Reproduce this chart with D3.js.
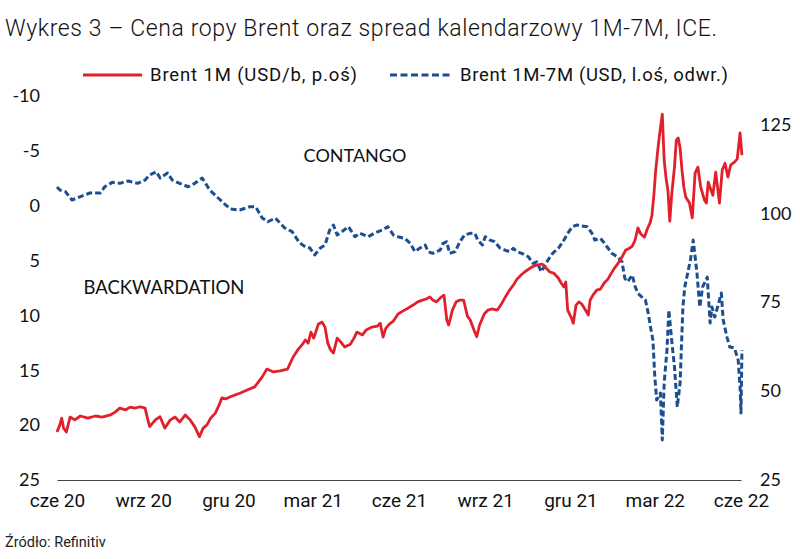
<!DOCTYPE html>
<html>
<head>
<meta charset="utf-8">
<script src="https://cdn.jsdelivr.net/npm/d3@7/dist/d3.min.js"></script>
<style>
html,body{margin:0;padding:0;background:#fff;}
svg{display:block;}
</style>
</head>
<body>
<svg id="chart" width="800" height="559"></svg>
<script>
// ---------- DATA ----------
const titleText = "Wykres 3 – Cena ropy Brent oraz spread kalendarzowy 1M-7M, ICE.";
const sourceText = "Źródło: Refinitiv";
const seriesNames = ["Brent 1M (USD/b, p.oś)", "Brent 1M-7M (USD, l.oś, odwr.)"];
const annotations = ["CONTANGO", "BACKWARDATION"];

const xTickDates = ["2020-06-01","2020-09-01","2020-12-01","2021-03-01","2021-06-01","2021-09-01","2021-12-01","2022-03-01","2022-06-01"];
const xTickLabels = ["cze 20","wrz 20","gru 20","mar 21","cze 21","wrz 21","gru 21","mar 22","cze 22"];
const leftTicks = [-10,-5,0,5,10,15,20,25];
const rightTicks = [25,50,75,100,125];

// Brent 1M (USD/b) - right axis
const brentDates = [
"2020-06-01","2020-06-04","2020-06-06","2020-06-08","2020-06-11","2020-06-15","2020-06-20","2020-06-26","2020-07-04","2020-07-12",
"2020-07-19","2020-07-28","2020-08-02","2020-08-07","2020-08-13","2020-08-18","2020-08-23","2020-08-29","2020-09-03","2020-09-06",
"2020-09-08","2020-09-14","2020-09-19","2020-09-24","2020-09-30","2020-10-05","2020-10-10","2020-10-16","2020-10-21","2020-10-26",
"2020-10-31","2020-11-04","2020-11-08","2020-11-12","2020-11-17","2020-11-21","2020-11-24","2020-11-28","2020-12-03","2020-12-08",
"2020-12-13","2020-12-21","2020-12-29","2021-01-06","2021-01-11","2021-01-18","2021-01-25","2021-02-02","2021-02-08","2021-02-13",
"2021-02-18","2021-02-21","2021-02-24","2021-02-27","2021-03-02","2021-03-07","2021-03-11","2021-03-14","2021-03-17","2021-03-20",
"2021-03-23","2021-03-27","2021-03-31","2021-04-04","2021-04-10","2021-04-14","2021-04-17","2021-04-23","2021-04-27","2021-05-03",
"2021-05-09","2021-05-12","2021-05-15","2021-05-18","2021-05-22","2021-05-26","2021-05-31","2021-06-05","2021-06-11","2021-06-16",
"2021-06-21","2021-06-26","2021-06-30","2021-07-04","2021-07-07","2021-07-11","2021-07-15","2021-07-19","2021-07-22","2021-07-24",
"2021-07-28","2021-08-01","2021-08-05","2021-08-09","2021-08-13","2021-08-16","2021-08-20","2021-08-23","2021-08-26","2021-08-31",
"2021-09-04","2021-09-08","2021-09-14","2021-09-19","2021-09-23","2021-09-27","2021-10-01","2021-10-05","2021-10-09","2021-10-13",
"2021-10-19","2021-10-23","2021-10-27","2021-11-01","2021-11-05","2021-11-09","2021-11-13","2021-11-18","2021-11-21","2021-11-24",
"2021-11-26","2021-11-28","2021-12-02","2021-12-04","2021-12-07","2021-12-10","2021-12-13","2021-12-17","2021-12-20","2021-12-22",
"2021-12-25","2021-12-29","2022-01-02","2022-01-06","2022-01-10","2022-01-13","2022-01-17","2022-01-21","2022-01-25","2022-01-29",
"2022-02-02","2022-02-05","2022-02-08","2022-02-11","2022-02-14","2022-02-18","2022-02-21","2022-02-24","2022-02-26","2022-02-28",
"2022-03-02","2022-03-05","2022-03-07","2022-03-09","2022-03-11","2022-03-13","2022-03-15","2022-03-17","2022-03-19","2022-03-22",
"2022-03-24","2022-03-26","2022-03-28","2022-03-30","2022-04-01","2022-04-03","2022-04-07","2022-04-10","2022-04-13","2022-04-16",
"2022-04-19","2022-04-23","2022-04-25","2022-04-27","2022-04-30","2022-05-02","2022-05-05","2022-05-09","2022-05-12","2022-05-15",
"2022-05-18","2022-05-21","2022-05-25","2022-05-28","2022-05-31","2022-06-02"];
const brentValues = [
38.5,40.5,42.4,39.6,38.5,42.7,41.9,43.0,42.4,43.0,
42.7,43.3,44.1,45.2,44.7,45.5,45.2,45.6,45.2,41.9,
40.0,41.9,42.8,39.6,41.9,42.7,41.3,43.3,41.9,40.0,
37.2,39.6,40.5,42.4,43.8,46.1,48.1,47.8,48.4,48.9,
49.4,50.3,51.2,54.0,56.2,55.4,55.7,56.2,59.6,61.6,
63.2,64.4,63.5,66.6,64.9,68.9,69.4,68.0,63.5,61.6,
60.7,64.9,63.8,62.4,63.2,64.9,66.6,65.8,67.2,68.0,
68.3,69.1,65.2,67.7,68.9,69.7,71.7,72.5,73.4,74.2,
75.1,75.6,75.9,76.5,75.6,75.1,76.2,77.0,70.0,68.6,
72.8,75.1,75.6,75.6,71.1,70.0,67.2,65.3,68.6,71.7,
72.8,73.1,72.8,74.8,76.7,78.4,79.8,81.5,82.6,83.5,
84.6,85.2,85.5,85.7,84.6,83.5,83.2,81.8,80.4,79.3,
80.7,72.8,70.6,69.1,74.2,75.1,74.5,72.8,71.4,75.6,
77.0,78.4,78.7,80.4,81.5,82.9,84.6,86.0,87.7,89.7,
90.2,90.8,92.5,95.9,94.2,93.3,95.6,97.3,99.5,105.1,
112.2,119.8,124.0,127.9,115.0,109.9,106.5,97.8,105.1,113.0,
120.6,121.2,118.4,112.2,107.4,104.6,102.9,98.7,111.3,113.0,
107.4,103.7,102.9,108.8,106.5,105.1,111.6,102.9,112.2,114.1,
110.2,113.6,114.4,115.3,122.6,116.4];

// Brent 1M-7M spread (USD) - left axis, inverted
const spreadDates = [
"2020-06-01","2020-06-04","2020-06-10","2020-06-17","2020-06-26","2020-07-06","2020-07-17","2020-07-22","2020-07-30","2020-08-07",
"2020-08-16","2020-08-26","2020-09-03","2020-09-08","2020-09-15","2020-09-19","2020-09-27","2020-10-02","2020-10-10","2020-10-19",
"2020-10-26","2020-11-03","2020-11-11","2020-11-20","2020-11-27","2020-12-03","2020-12-13","2020-12-24","2020-12-30","2021-01-06",
"2021-01-12","2021-01-20","2021-01-30","2021-02-07","2021-02-15","2021-02-21","2021-02-26","2021-03-03","2021-03-09","2021-03-14",
"2021-03-19","2021-03-23","2021-03-27","2021-04-01","2021-04-08","2021-04-15","2021-04-20","2021-04-29","2021-05-06","2021-05-14",
"2021-05-20","2021-05-26","2021-05-31","2021-06-07","2021-06-13","2021-06-18","2021-06-23","2021-06-29","2021-07-02","2021-07-07",
"2021-07-15","2021-07-18","2021-07-22","2021-07-25","2021-07-31","2021-08-05","2021-08-10","2021-08-16","2021-08-21","2021-08-24",
"2021-08-29","2021-09-01","2021-09-06","2021-09-11","2021-09-17","2021-09-22","2021-09-27","2021-10-01","2021-10-05","2021-10-10",
"2021-10-17","2021-10-22","2021-10-26","2021-10-31","2021-11-04","2021-11-07","2021-11-12","2021-11-18","2021-11-23","2021-11-28",
"2021-12-03","2021-12-08","2021-12-13","2021-12-19","2021-12-24","2021-12-27","2022-01-02","2022-01-05","2022-01-09","2022-01-14",
"2022-01-20","2022-01-25","2022-01-28","2022-01-31","2022-02-05","2022-02-08","2022-02-11","2022-02-15","2022-02-19","2022-02-22",
"2022-02-25","2022-02-27","2022-03-01","2022-03-03","2022-03-07","2022-03-09","2022-03-11","2022-03-14","2022-03-16","2022-03-19",
"2022-03-22","2022-03-25","2022-03-28","2022-03-31","2022-04-02","2022-04-08","2022-04-11","2022-04-15","2022-04-18","2022-04-21",
"2022-04-26","2022-04-29","2022-05-01","2022-05-04","2022-05-07","2022-05-11","2022-05-13","2022-05-17","2022-05-20","2022-05-25",
"2022-05-29","2022-05-31","2022-06-01","2022-06-02"];
const spreadValues = [
-1.70,-1.43,-1.28,-0.52,-0.82,-1.16,-1.16,-1.73,-2.13,-2.04,
-2.25,-2.04,-2.34,-2.80,-3.10,-2.52,-2.98,-2.34,-2.04,-1.73,
-2.04,-2.52,-1.43,-0.70,-0.15,0.30,0.39,0.09,0.09,1.12,
1.46,1.12,2.03,2.37,3.40,3.74,3.86,4.49,3.86,3.58,
2.22,1.76,2.67,2.37,1.91,2.83,2.49,2.83,2.49,2.22,
1.91,2.67,2.83,2.97,3.43,4.19,3.88,3.58,4.19,4.34,
4.04,3.43,3.28,4.34,4.19,3.28,2.67,2.52,2.52,3.13,
3.58,2.83,3.13,3.28,3.88,4.04,4.19,3.88,4.19,4.34,
4.65,5.25,5.11,6.02,5.41,4.95,4.34,3.88,3.28,2.52,
1.91,1.76,1.85,1.91,2.52,3.13,2.97,3.28,3.74,4.34,
4.65,5.11,6.62,6.93,6.32,7.38,7.99,8.30,8.60,9.81,
11.33,12.24,15.59,17.71,17.07,21.36,16.16,13.15,9.51,12.24,
14.70,18.35,16.16,9.23,7.41,4.95,3.13,6.14,9.23,7.41,
6.50,10.69,9.23,10.15,9.23,7.96,10.42,11.97,12.88,12.97,
14.07,16.53,18.90,13.15];

// ---------- CHART ----------
const parse = d3.utcParse("%Y-%m-%d");
const brent = brentDates.map((d,i)=>({date:parse(d), value:brentValues[i]}));
const spread = spreadDates.map((d,i)=>({date:parse(d), value:spreadValues[i]}));

const svg = d3.select("#chart");
const RED = "#e1202b", BLUE = "#1d4f8f";
const ING = "Roboto, 'Open Sans', sans-serif";
const CAL = "Lato, 'Open Sans', sans-serif";

const x = d3.scaleUtc().domain([parse("2020-06-01"), parse("2022-06-01")]).range([57, 741]);
const yL = d3.scaleLinear().domain([-10, 25]).range([96, 480]);
const yR = d3.scaleLinear().domain([25, 133]).range([480, 96]);

// title
svg.append("text").attr("x",5).attr("y",36)
  .attr("font-family",ING).attr("font-weight",300).attr("font-size",23).attr("fill","#111")
  .attr("textLength",712).attr("lengthAdjust","spacing")
  .text(titleText);

// legend
const lg = svg.append("g");
lg.append("line").attr("x1",83).attr("x2",142).attr("y1",75).attr("y2",75)
  .attr("stroke",RED).attr("stroke-width",3);
lg.append("text").attr("x",150).attr("y",81).attr("font-family",ING).attr("font-size",18.5)
  .attr("textLength",207).attr("lengthAdjust","spacing").attr("fill","#111").text(seriesNames[0]);
lg.append("line").attr("x1",390).attr("x2",452).attr("y1",75).attr("y2",75)
  .attr("stroke",BLUE).attr("stroke-width",3).attr("stroke-dasharray","7,3.5");
lg.append("text").attr("x",460).attr("y",81).attr("font-family",ING).attr("font-size",18.5)
  .attr("textLength",268).attr("lengthAdjust","spacing").attr("fill","#111").text(seriesNames[1]);

// axes
const xAxis = d3.axisBottom(x)
  .tickValues(xTickDates.map(parse))
  .tickFormat((d,i)=>xTickLabels[i])
  .tickSize(0).tickSizeOuter(0).tickPadding(14);
const gx = svg.append("g").attr("transform","translate(0,480)").call(xAxis);
gx.select(".domain").attr("stroke","#444").attr("stroke-width",1.2);
gx.selectAll("text").attr("font-family",ING).attr("font-size",19).attr("fill","#111");

const gl = svg.append("g").attr("transform","translate(43,0)")
  .call(d3.axisLeft(yL).tickValues(leftTicks).tickFormat(d=>String(d)).tickSize(0).tickPadding(3));
gl.select(".domain").remove();
gl.selectAll("text").attr("font-family",CAL).attr("font-size",18).attr("fill","#111");

const gr = svg.append("g").attr("transform","translate(757,0)")
  .call(d3.axisRight(yR).tickValues(rightTicks).tickFormat(d=>String(d)).tickSize(0).tickPadding(3));
gr.select(".domain").remove();
gr.selectAll("text").attr("font-family",CAL).attr("font-size",18).attr("fill","#111");

// annotations
svg.append("text").attr("x",355).attr("y",162).attr("text-anchor","middle")
  .attr("font-family",CAL).attr("font-size",18).attr("fill","#111").text(annotations[0]);
svg.append("text").attr("x",164).attr("y",294).attr("text-anchor","middle")
  .attr("font-family",CAL).attr("font-size",18.5).attr("fill","#111").text(annotations[1]);

// lines
const lineR = d3.line().x(d=>x(d.date)).y(d=>yR(d.value));
const lineL = d3.line().x(d=>x(d.date)).y(d=>yL(d.value));

svg.append("path").datum(spread).attr("d",lineL)
  .attr("fill","none").attr("stroke",BLUE).attr("stroke-width",3)
  .attr("stroke-dasharray","6,3").attr("stroke-linejoin","round");
svg.append("path").datum(brent).attr("d",lineR)
  .attr("fill","none").attr("stroke",RED).attr("stroke-width",2.8)
  .attr("stroke-linejoin","round");

// source
svg.append("text").attr("x",5).attr("y",547).attr("font-family",ING).attr("font-size",14.5).attr("fill","#222").text(sourceText);
</script>
</body>
</html>
